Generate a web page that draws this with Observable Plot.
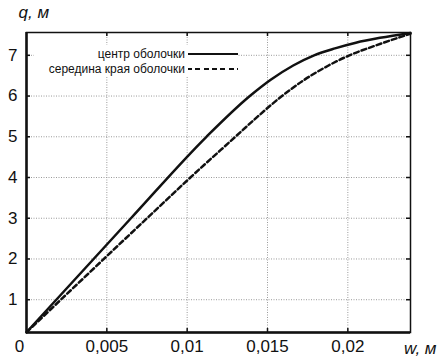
<!DOCTYPE html>
<html>
<head>
<meta charset="utf-8">
<script src="https://cdn.jsdelivr.net/npm/d3@7"></script>
<script src="https://cdn.jsdelivr.net/npm/@observablehq/plot@0.6"></script>
<style>
  body { margin: 0; background: #fff; }
  #wrap { position: relative; width: 438px; height: 364px; font-family: "Liberation Sans", Arial, sans-serif; }
  .lg { position: absolute; background: #fff; font-size: 12px; color: #111; }
  .row { position: absolute; right: 0; display: flex; align-items: center; white-space: nowrap; }
  .row span { margin-right: 3px; }
  .sw { width: 50px; height: 0; border-top: 2.5px solid #111; }
  .sw.d { border-top: 2.5px dashed #111; border-image: repeating-linear-gradient(90deg, #111 0 5px, transparent 5px 8px) 1; }
</style>
</head>
<body>
<div id="wrap"></div>
<script>
// Data
const wCenter = [0, 0.0065, 0.0112, 0.0139, 0.0152, 0.0166, 0.0179, 0.0192, 0.0205, 0.0220, 0.0239];
const qCenter = [0.2, 3.0, 5.0, 6.0, 6.4, 6.75, 7.0, 7.17, 7.31, 7.43, 7.55];
const wEdge = [0, 0.0075, 0.0102, 0.0130, 0.0144, 0.0159, 0.0173, 0.0188, 0.0201, 0.0218, 0.0239];
const qEdge = [0.2, 3.0, 4.0, 5.0, 5.5, 6.0, 6.4, 6.75, 7.0, 7.25, 7.53];
const seriesNames = ["центр оболочки", "середина края оболочки"];
const xTicks = [0, 0.005, 0.01, 0.015, 0.02];
const yTicks = [1, 2, 3, 4, 5, 6, 7];
const xDomain = [0, 0.0239];
const yDomain = [0.195, 7.56];
const xTitle = "w, м";
const yTitle = "q, м";

const center = wCenter.map((w, i) => ({w, q: qCenter[i]}));
const edge = wEdge.map((w, i) => ({w, q: qEdge[i]}));

const W = 438, H = 364, mL = 26, mR = 28, mT = 32, mB = 32;
const innerW = W - mL - mR, innerH = H - mT - mB;
const fmt = d => d === 0 ? "0" : String(d).replace(".", ",");

const chart = Plot.plot({
  width: W, height: H,
  marginLeft: mL, marginRight: mR, marginTop: mT, marginBottom: mB,
  style: {fontFamily: "'Liberation Sans', Arial, sans-serif", background: "#fff", color: "#111"},
  x: {domain: xDomain, label: null},
  y: {domain: yDomain, label: null},
  marks: [
    Plot.gridX(xTicks.slice(1), {stroke: "#9a9a9a", strokeOpacity: 1, strokeDasharray: "1,1.5", strokeWidth: 1}),
    Plot.gridY(yTicks, {stroke: "#9a9a9a", strokeOpacity: 1, strokeDasharray: "1,1.5", strokeWidth: 1}),
    // inward ticks
    Plot.ruleX(xTicks.slice(1), {x: d => d, insetTop: innerH - 4, stroke: "#111", strokeWidth: 1.5}),
    Plot.ruleX(xTicks.slice(1), {x: d => d, insetBottom: innerH - 4, stroke: "#111", strokeWidth: 1.5}),
    Plot.ruleY(yTicks, {y: d => d, insetRight: innerW - 4, stroke: "#111", strokeWidth: 1.5}),
    Plot.ruleY(yTicks, {y: d => d, insetLeft: innerW - 4, stroke: "#111", strokeWidth: 1.5}),
    Plot.frame({stroke: "#111", strokeWidth: 1.5}),
    Plot.ruleX([xDomain[0]], {stroke: "#111", strokeWidth: 2.5}),
    Plot.ruleY([yDomain[0]], {stroke: "#111", strokeWidth: 2.5}),
    Plot.line(center, {x: "w", y: "q", curve: "monotone-x", stroke: "#111", strokeWidth: 2.5}),
    Plot.line(edge, {x: "w", y: "q", curve: "monotone-x", stroke: "#111", strokeWidth: 2.5, strokeDasharray: "5,3"}),
    Plot.axisY(yTicks, {tickSize: 0, tickPadding: 9, fontSize: 17, tickFormat: fmt, label: null}),
    Plot.axisX(xTicks.slice(1), {tickSize: 0, tickPadding: 7, fontSize: 17, tickFormat: fmt, label: null}),
    Plot.axisX([xTicks[0]], {tickSize: 0, tickPadding: 7, fontSize: 17, tickFormat: fmt, dx: -7, label: null}),
    Plot.text([yTitle], {frameAnchor: "top-left", dx: -8, dy: -27, fontSize: 17, fontStyle: "italic", textAnchor: "start", lineAnchor: "top"}),
    Plot.text([xTitle], {frameAnchor: "bottom-right", dx: 26, dy: 9, fontSize: 17, fontStyle: "italic", textAnchor: "end", lineAnchor: "top"})
  ]
});
const wrap = document.getElementById("wrap");
wrap.appendChild(chart);

// legend inside plot area
const lg = document.createElement("div");
lg.className = "lg";
lg.style.left = "34px"; lg.style.top = "45px"; lg.style.width = "204px"; lg.style.height = "31px";
seriesNames.forEach((name, i) => {
  const row = document.createElement("div");
  row.className = "row";
  row.style.top = (i * 15 + 1) + "px";
  row.style.height = "15px";
  const s = document.createElement("span"); s.textContent = name;
  const sw = document.createElement("div"); sw.className = "sw" + (i ? " d" : "");
  row.appendChild(s); row.appendChild(sw);
  lg.appendChild(row);
});
wrap.appendChild(lg);
</script>
</body>
</html>
